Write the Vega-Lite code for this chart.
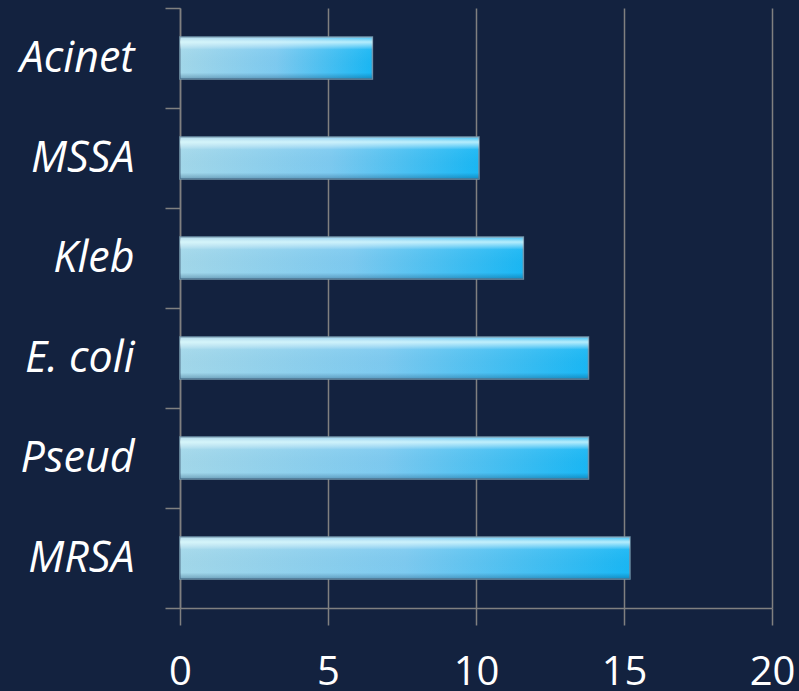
{
  "$schema": "https://vega.github.io/schema/vega-lite/v6.json",
  "width": 592,
  "height": 600,
  "autosize": {"type": "none"},
  "padding": {"left": 180, "top": 8, "right": 27, "bottom": 83},
  "background": "#13223f",
  "config": {
    "view": {"stroke": null},
    "font": "Open Sans"
  },
  "data": {
    "values": [
      {"organism": "Acinet", "value": 6.5},
      {"organism": "MSSA", "value": 10.1},
      {"organism": "Kleb", "value": 11.6},
      {"organism": "E. coli", "value": 13.8},
      {"organism": "Pseud", "value": 13.8},
      {"organism": "MRSA", "value": 15.2}
    ]
  },
  "encoding": {
    "y": {
      "field": "organism",
      "type": "nominal",
      "sort": null,
      "scale": {"paddingInner": 0, "paddingOuter": 0},
      "axis": {
        "title": null,
        "domainColor": "#808080",
        "domainWidth": 1.5,
        "tickColor": "#808080",
        "tickWidth": 1.5,
        "tickSize": 15,
        "tickBand": "extent",
        "labelFont": "Open Sans",
        "labelFontStyle": "italic",
        "labelFontSize": 43,
        "labelColor": "#ffffff",
        "labelPadding": 31,
        "labelBaseline": "middle"
      }
    },
    "x": {
      "field": "value",
      "type": "quantitative",
      "scale": {"domain": [0, 20], "nice": false},
      "axis": {
        "title": null,
        "values": [0, 5, 10, 15, 20],
        "grid": true,
        "gridColor": "#808080",
        "gridWidth": 1.5,
        "domainColor": "#808080",
        "domainWidth": 1.5,
        "tickColor": "#808080",
        "tickWidth": 1.5,
        "tickSize": 17,
        "labelFont": "Open Sans",
        "labelFontSize": 40,
        "labelColor": "#ffffff",
        "labelBaseline": "alphabetic",
        "labelPadding": 59,
        "labelFlush": false,
        "labelOverlap": false
      }
    }
  },
  "layer": [
    {
      "mark": {
        "type": "bar",
        "height": {"band": 0.42},
        "stroke": "#6f94ab",
        "strokeWidth": 1.5,
        "fill": {
          "gradient": "linear",
          "x1": 0, "y1": 0, "x2": 1, "y2": 0,
          "stops": [
            {"offset": 0, "color": "#a3d8ea"},
            {"offset": 0.5, "color": "#7dcaf0"},
            {"offset": 1, "color": "#19b7f4"}
          ]
        }
      }
    },
    {
      "mark": {
        "type": "bar",
        "height": {"band": 0.42},
        "strokeWidth": 0,
        "fill": {
          "gradient": "linear",
          "x1": 0, "y1": 0, "x2": 0, "y2": 1,
          "stops": [
            {"offset": 0, "color": "rgba(255,255,255,0.15)"},
            {"offset": 0.12, "color": "rgba(230,255,255,0.75)"},
            {"offset": 0.3, "color": "rgba(255,255,255,0.05)"},
            {"offset": 0.85, "color": "rgba(0,40,80,0.0)"},
            {"offset": 1, "color": "rgba(0,40,80,0.3)"}
          ]
        }
      }
    }
  ]
}
